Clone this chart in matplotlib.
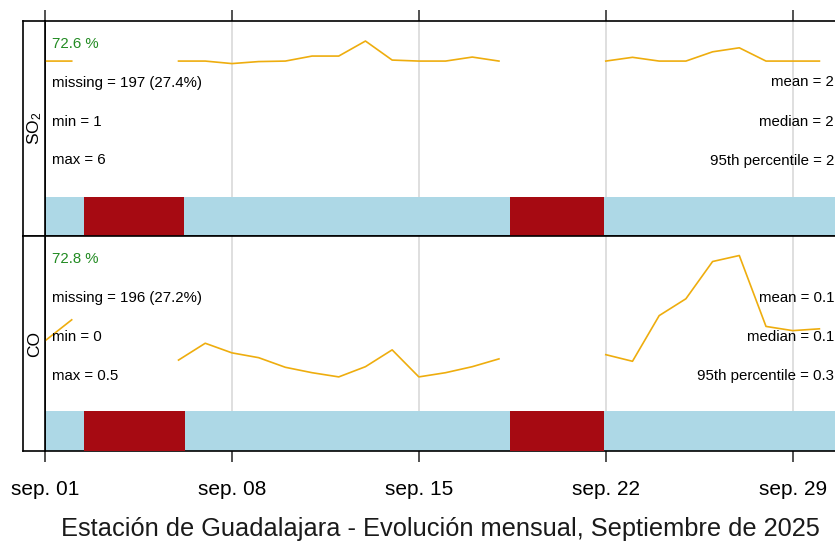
import numpy as np
import pandas as pd
import matplotlib
matplotlib.use("Agg")
import matplotlib.pyplot as plt
import matplotlib.dates as mdates

plt.rcParams['font.family'] = ['Liberation Sans', 'DejaVu Sans']
plt.rcParams['mathtext.fontset'] = 'custom'
plt.rcParams['mathtext.rm'] = 'Liberation Sans'
plt.rcParams['mathtext.it'] = 'Liberation Sans'
plt.rcParams['mathtext.default'] = 'regular'

nan = np.nan
# ---- data ----
days = pd.date_range("2025-09-01", periods=30, freq="D")
so2_daily = [2.0, 2.0, nan, nan, nan, 2.0, 2.0, 1.9, 1.98, 2.0, 2.2, 2.2, 2.8, 2.04, 2.0,
             2.0, 2.16, 2.0, nan, nan, nan, 2.0, 2.15, 2.0, 2.0, 2.37, 2.53, 2.0, 2.0, 2.0]
co_daily = [0.160, 0.195, nan, nan, nan, 0.128, 0.156, 0.140, 0.132, 0.116, 0.107, 0.100, 0.117,
            0.145, 0.100, 0.107, 0.117, 0.130, nan, nan, nan, 0.137, 0.126, 0.202, 0.230, 0.292,
            0.302, 0.184, 0.177, 0.180]
period_start = "2025-09-01 00:00"
period_end = "2025-09-30 23:00"
so2_missing = [("2025-09-02 11:00", "2025-09-06 05:00"), ("2025-09-18 10:00", "2025-09-21 22:00")]
co_missing = [("2025-09-02 11:00", "2025-09-06 06:00"), ("2025-09-18 10:00", "2025-09-21 22:00")]

panels = [
    dict(label="SO$_2$", daily=so2_daily, missing=so2_missing, pct="72.6 %",
         left=["missing = 197 (27.4%)", "min = 1", "max = 6"],
         right=["mean = 2", "median = 2", "95th percentile = 2"], ylim=(-5.0, 3.6)),
    dict(label="CO", daily=co_daily, missing=co_missing, pct="72.8 %",
         left=["missing = 196 (27.2%)", "min = 0", "max = 0.5"],
         right=["mean = 0.1", "median = 0.1", "95th percentile = 0.3"], ylim=(-0.0233, 0.3338)),
]
tick_dates = pd.to_datetime(["2025-09-01", "2025-09-08", "2025-09-15", "2025-09-22", "2025-09-29"])
tick_labels = ["sep. 01", "sep. 08", "sep. 15", "sep. 22", "sep. 29"]
title = "Estación de Guadalajara - Evolución mensual, Septiembre de 2025"

W, H = 835, 546
fig = plt.figure(figsize=(W / 100, H / 100), dpi=100)

col_trend = "#EEAD0E"
col_data = "#ADD8E6"
col_mis = "#A60A12"

frames = [(21, 236.4), (236.4, 451)]
x0, x1 = 45, 845
strip_x0 = 23
t0 = mdates.date2num(pd.Timestamp(period_start))
t1 = mdates.date2num(pd.Timestamp(period_end))

for i, (p, (ytop, ybot)) in enumerate(zip(panels, frames)):
    ax = fig.add_axes([x0 / W, 1 - ybot / H, (x1 - x0) / W, (ybot - ytop) / H])
    ax.set_xlim(t0, t1)
    ax.set_ylim(*p["ylim"])
    for s in ax.spines.values():
        s.set_linewidth(1.2)
        s.set_color("black")
    ax.grid(axis="x", color="#dcdcdc", lw=1.3, zorder=0)
    ax.set_axisbelow(True)
    ax.set_yticks([])
    ax.set_xticks(mdates.date2num(tick_dates))
    ax.tick_params(axis="x", direction="out", length=8, width=1.2, color="#333333",
                   labelsize=15, pad=13)
    if i == 0:
        ax.xaxis.set_ticks_position("top")
        ax.tick_params(axis="x", labeltop=False, labelbottom=False)
    else:
        ax.xaxis.set_ticks_position("bottom")
        ax.set_xticklabels(tick_labels)
    # data availability bar
    trans = ax.get_xaxis_transform()
    bar_h = 0.185
    ax.add_patch(plt.Rectangle((t0, 0), t1 - t0, bar_h, transform=trans,
                               facecolor=col_data, edgecolor="none", zorder=2))
    for a, b in p["missing"]:
        ma = mdates.date2num(pd.Timestamp(a))
        mb = mdates.date2num(pd.Timestamp(b))
        ax.add_patch(plt.Rectangle((ma, 0), mb - ma, bar_h, transform=trans,
                                   facecolor=col_mis, edgecolor="none", zorder=3))
    # trend line
    ax.plot(mdates.date2num(days), p["daily"], color=col_trend, lw=1.2, zorder=4)
    # texts
    hgt = ybot - ytop
    ax.text((52.5 - x0) / (x1 - x0), 1 - 22.5 / hgt, p["pct"], transform=ax.transAxes,
            color="#228B22", fontsize=10.8, ha="left", va="center", zorder=5)
    for k, s in enumerate(p["left"]):
        ax.text((52.5 - x0) / (x1 - x0), 1 - (61.5 + 39 * k) / hgt, s, transform=ax.transAxes,
                color="black", fontsize=10.8, ha="left", va="center", zorder=5)
    for k, s in enumerate(p["right"]):
        ax.text((834 - x0) / (x1 - x0), 1 - (61.5 + 39 * k) / hgt, s, transform=ax.transAxes,
                color="black", fontsize=10.8, ha="right", va="center", zorder=5)
    # left strip with variable name
    sax = fig.add_axes([strip_x0 / W, 1 - ybot / H, (x0 - strip_x0) / W, (ybot - ytop) / H])
    sax.set_xticks([])
    sax.set_yticks([])
    for s in sax.spines.values():
        s.set_linewidth(1.2)
        s.set_color("black")
    sax.text(0.55, 0.5, p["label"], rotation=90, ha="center", va="center",
             fontsize=12.5, transform=sax.transAxes)

fig.text(440.8 / W, 1 - 529 / H, title, ha="center", va="center", fontsize=18.3, color="#1a1a1a")

fig.savefig("out.png", dpi=100)
